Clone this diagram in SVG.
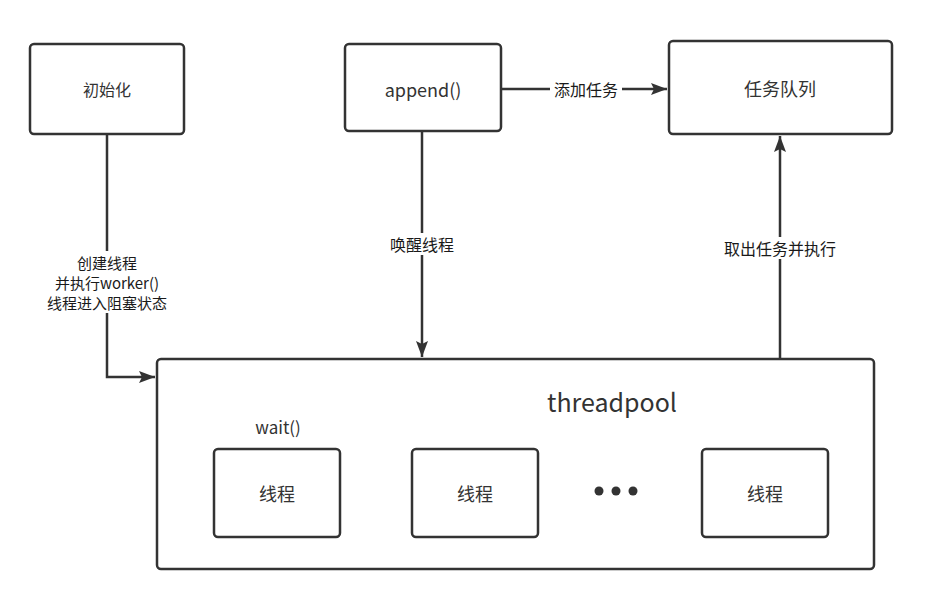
<svg xmlns="http://www.w3.org/2000/svg" width="939" height="601" viewBox="0 0 939 601">
<defs>
<style>
.box{fill:#fff;stroke:#333;stroke-width:2.5}
.t{font-family:"Noto Sans CJK SC","Noto Sans",sans-serif;fill:#333;text-anchor:middle;dominant-baseline:central}
.lbl{font-family:"Noto Sans CJK SC","Noto Sans",sans-serif;fill:#1a1a1a;font-size:16px;text-anchor:middle;dominant-baseline:central}
.ml{font-size:15px}
.line{fill:none;stroke:#333;stroke-width:2.5}
.bg{fill:#fff}
</style>
<marker id="ah" viewBox="0 0 16 12" refX="16" refY="6" markerWidth="16" markerHeight="12" markerUnits="userSpaceOnUse" orient="auto">
<path d="M0,0 L16,6 L0,12 L3,6 Z" fill="#333"/>
</marker>
</defs>
<rect width="939" height="601" fill="#fff"/>
<g id="connectors">
<path class="line" d="M107,134 V377 H155" marker-end="url(#ah)"/>
<rect class="bg" x="37" y="251" width="142" height="62"/>
<text class="lbl ml" x="107" y="262">创建线程</text>
<text class="lbl ml" x="107" y="282">并执行worker()</text>
<text class="lbl ml" x="107" y="302">线程进入阻塞状态</text>
<path class="line" d="M422,131 V357" marker-end="url(#ah)"/>
<rect class="bg" x="387" y="233" width="70" height="22"/>
<text class="lbl" x="422" y="244">唤醒线程</text>
<path class="line" d="M501,89 H667" marker-end="url(#ah)"/>
<rect class="bg" x="550" y="78" width="72" height="22"/>
<text class="lbl" x="586" y="89">添加任务</text>
<path class="line" d="M780,359 V136" marker-end="url(#ah)"/>
<rect class="bg" x="719" y="237" width="122" height="22"/>
<text class="lbl" x="780" y="248">取出任务并执行</text>
</g>
<g id="init">
<rect class="box" x="30" y="44" width="154" height="90" rx="4"/>
<text class="t" x="107" y="89" font-size="16">初始化</text>
</g>
<g id="append">
<rect class="box" x="345" y="44" width="156" height="87" rx="4"/>
<text class="t" x="423" y="89" font-size="18">append()</text>
</g>
<g id="queue">
<rect class="box" x="669" y="41" width="223" height="93" rx="4"/>
<text class="t" x="780" y="88" font-size="18">任务队列</text>
</g>
<g id="threadpool">
<rect class="box" x="157" y="359" width="717" height="210" rx="4"/>
<text class="t" x="612" y="401" font-size="25">threadpool</text>
<text class="t" x="278" y="426" font-size="17">wait()</text>
</g>
<g id="thread1">
<rect class="box" x="214" y="449" width="126" height="88" rx="4"/>
<text class="t" x="277" y="493" font-size="18">线程</text>
</g>
<g id="thread2">
<rect class="box" x="412" y="449" width="126" height="88" rx="4"/>
<text class="t" x="475" y="493" font-size="18">线程</text>
</g>
<g id="dots">
<circle cx="599" cy="491" r="4.5" fill="#333"/>
<circle cx="616" cy="491" r="4.5" fill="#333"/>
<circle cx="633" cy="491" r="4.5" fill="#333"/>
</g>
<g id="thread3">
<rect class="box" x="702" y="449" width="126" height="88" rx="4"/>
<text class="t" x="765" y="493" font-size="18">线程</text>
</g>
</svg>
